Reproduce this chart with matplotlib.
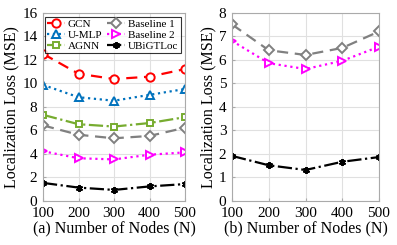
import matplotlib
matplotlib.use("Agg")
import matplotlib.pyplot as plt

nodes = [100, 200, 300, 400, 500]
gcn = [12.5, 10.8, 10.35, 10.55, 11.2]
umlp = [9.85, 8.8, 8.5, 9.0, 9.5]
agnn = [7.3, 6.5, 6.3, 6.6, 7.1]
base1_a = [6.4, 5.6, 5.3, 5.5, 6.2]
base2_a = [4.2, 3.6, 3.5, 3.9, 4.1]
ubig_a = [1.5, 1.1, 0.9, 1.2, 1.4]
base1_b = [7.5, 6.4, 6.2, 6.5, 7.2]
base2_b = [6.8, 5.85, 5.6, 5.95, 6.55]
ubig_b = [1.9, 1.5, 1.3, 1.65, 1.85]

plt.rcParams['font.family'] = ['Liberation Serif', 'DejaVu Serif']
plt.rcParams['mathtext.fontset'] = 'stix'

fig = plt.figure(figsize=(3.97, 2.45), dpi=100)
W, H = 397, 245
ax1 = fig.add_axes([43/W, 1-200.5/H, (185-43)/W, (200.5-12.7)/H])
ax2 = fig.add_axes([232/W, 1-200.5/H, (379-232)/W, (200.5-12.7)/H])

red = '#FF0000'
blue = '#0072BD'
green = '#77AC30'
gray = '#808080'
mag = '#FF00FF'
blk = '#000000'

lw = 1.6
ms = 6

def plot_series(ax, y, color, ls, marker, label, msize=ms):
    ax.plot(nodes, y, color=color, ls=ls, lw=lw, marker=marker, ms=msize,
            mfc='white', mec=color, mew=1.4, label=label)

plot_series(ax1, gcn, red, (0, (5, 3)), 'o', 'GCN')
plot_series(ax1, umlp, blue, ':', '^', 'U-MLP')
plot_series(ax1, agnn, green, '-.', 's', 'AGNN', 5)
plot_series(ax1, base1_a, gray, (0, (5, 3)), 'D', 'Baseline 1', 5)
plot_series(ax1, base2_a, mag, ':', '>', 'Baseline 2')
ax1.plot(nodes, ubig_a, color=blk, ls='-.', lw=lw, marker=(6, 2, 0), ms=5,
         mew=1.4, label='UBiGTLoc')

plot_series(ax2, base1_b, gray, (0, (5, 3)), 'D', 'Baseline 1', 5)
plot_series(ax2, base2_b, mag, ':', '>', 'Baseline 2')
ax2.plot(nodes, ubig_b, color=blk, ls='-.', lw=lw, marker=(6, 2, 0), ms=5,
         mew=1.4, label='UBiGTLoc')

for ax in (ax1, ax2):
    ax.set_xlim(100, 500)
    ax.set_xticks(nodes)
    ax.grid(True, color='#E0E0E0', lw=0.8)
    ax.set_axisbelow(True)
    ax.tick_params(labelsize=11, direction='in', length=2, color='#AAAAAA')
    ax.tick_params(axis='x', pad=5)
    ax.tick_params(axis='y', pad=4)
    for s in ax.spines.values():
        s.set_color('#AAAAAA')
        s.set_linewidth(0.8)
    ax.set_ylabel('Localization Loss (MSE)', fontsize=11.5, labelpad=2)

ax1.set_ylim(0, 16)
ax1.set_yticks(range(0, 17, 2))
ax2.set_ylim(0, 8)
ax2.set_yticks(range(0, 9))
ax1.set_xlabel('(a) Number of Nodes (N)', fontsize=11.5, labelpad=0)
ax2.set_xlabel('(b) Number of Nodes (N)', fontsize=11.5, labelpad=0)

leg = ax1.legend(ncol=2, loc='upper right', fontsize=8, frameon=True,
                 fancybox=False, edgecolor='black', borderpad=0.2,
                 labelspacing=0.1, handlelength=1.6, handletextpad=0.3,
                 columnspacing=0.4, borderaxespad=0.2,
                 bbox_to_anchor=(0.985, 0.99))
leg.get_frame().set_linewidth(0.8)

fig.savefig('out.png', dpi=100)
